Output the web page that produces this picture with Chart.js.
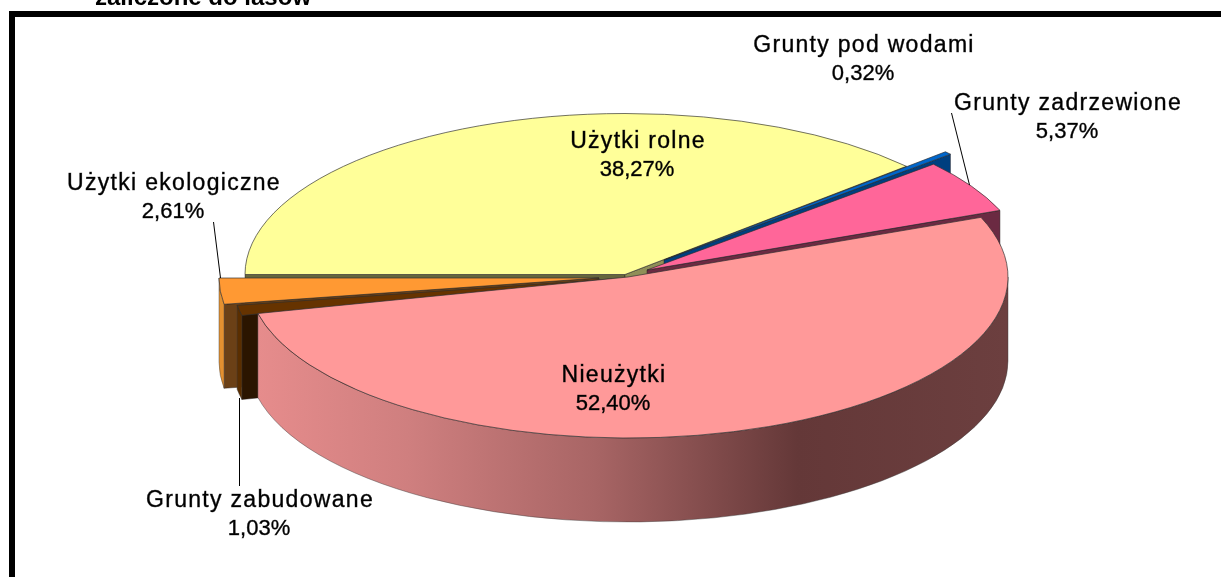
<!DOCTYPE html>
<html><head><meta charset="utf-8">
<style>html,body{margin:0;padding:0;background:#fff;overflow:hidden}canvas{display:block}</style>
<script src="https://cdn.jsdelivr.net/npm/chart.js@4"></script>
</head><body><canvas id="c" width="1221" height="577"></canvas>
<script>
// --- data ---
const categories = ['Użytki rolne','Grunty pod wodami','Grunty zadrzewione','Nieużytki','Grunty zabudowane','Użytki ekologiczne'];
const shares = [38.27,0.32,5.37,52.40,1.03,2.61];
const clippedTitle = 'zaliczone do lasów';

// --- styles ---
const topColors  = ['#FFFF99','#0066CC','#FF6699','#FF9999','#663300','#FF9933'];
const endFace    = ['#8F8F58','#003F7F','#6B2A42',null,null,null];
const startFace  = ['#66663D',null,null,null,'#2B1500','#6B4016'];
const rimColors  = [null,'#004488',null,null,'#5A2E00','#E39030'];
const rimGradient = [[0,'#E68C8C'],[0.2,'#CF7F7F'],[0.45,'#A86565'],[0.72,'#643838'],[1,'#6C3F3F']];
const outline = 'rgba(45,45,45,0.75)';
// --- layout ---
const RX = 380, RY = 161, DEPTH = 84;
const centers = [[625,274.5],[664,260],[647,270],[628,277],[612,279],[599,278]];
const drawOrder = [0,1,2,5,4,3];
const labelSpots = [[638,142],[864,46],[1068,104],[614,376],[260,501],[174,184]];
const leaders = [[[951,113],[969,185]],[[239,398],[239,486]],[[213,222],[220,278]]];

function pieceDraw(ctx, arc, i){
  const [cx,cy] = centers[i];
  const a0 = arc.startAngle, a1 = arc.endAngle;
  const px = a => cx + RX*Math.cos(a), py = a => cy + RY*Math.sin(a);
  const face = (a, col) => {
    if(!col) return;
    ctx.beginPath();
    ctx.moveTo(cx,cy); ctx.lineTo(px(a),py(a));
    ctx.lineTo(px(a),py(a)+DEPTH); ctx.lineTo(cx,cy+DEPTH); ctx.closePath();
    ctx.fillStyle = col; ctx.fill();
    ctx.strokeStyle = 'rgba(30,20,20,0.6)'; ctx.lineWidth = 0.7; ctx.stroke();
  };
  // rim wall: visible only where the angle faces the viewer
  const from = Math.max(a0,0), to = Math.min(a1,Math.PI);
  face(a0, startFace[i]);
  face(a1, endFace[i]);
  if(to>from){
    ctx.beginPath();
    ctx.ellipse(cx,cy,RX,RY,0,from,to,false);
    ctx.lineTo(px(to),py(to)+DEPTH);
    ctx.ellipse(cx,cy+DEPTH,RX,RY,0,to,from,true);
    ctx.closePath();
    if(rimColors[i]) ctx.fillStyle = rimColors[i];
    else {
      const g = ctx.createLinearGradient(cx-RX*0.974,0,cx+RX,0);
      rimGradient.forEach(s=>g.addColorStop(s[0],s[1]));
      ctx.fillStyle = g;
    }
    ctx.fill();
    ctx.strokeStyle = 'rgba(60,60,60,0.55)'; ctx.lineWidth = 0.8; ctx.stroke();
  }
  // top: drawn by the library's arc element under the projection
  ctx.save();
  ctx.translate(cx,cy);
  ctx.scale(RX/arc.outerRadius,RY/arc.outerRadius);
  ctx.translate(-arc.x,-arc.y);
  arc.draw(ctx);
  ctx.restore();
  ctx.beginPath();
  ctx.moveTo(cx,cy);
  ctx.ellipse(cx,cy,RX,RY,0,a0,a1,false);
  ctx.closePath();
  ctx.strokeStyle = outline; ctx.lineWidth = 0.9; ctx.stroke();
}

const pie3d = {
  id:'pie3d',
  beforeDatasetsDraw(chart){
    const ctx = chart.ctx, arcs = chart.getDatasetMeta(0).data;
    ctx.save();
    ctx.fillStyle='#000';
    ctx.fillRect(9,11,1212,6);
    ctx.fillRect(9,11,6,566);
    ctx.font='bold 24px "Liberation Sans"';
    ctx.textAlign='left'; ctx.textBaseline='alphabetic';
    ctx.fillText(clippedTitle,95,5);
    drawOrder.forEach(i=>pieceDraw(ctx,arcs[i],i));
    ctx.strokeStyle='#000'; ctx.lineWidth=1;
    leaders.forEach(l=>{ctx.beginPath();ctx.moveTo(l[0][0]+.5,l[0][1]);ctx.lineTo(l[1][0]+.5,l[1][1]);ctx.stroke();});
    ctx.fillStyle='#000'; ctx.strokeStyle='rgba(0,0,0,0.7)'; ctx.lineWidth=0.5;
    ctx.textAlign='center'; ctx.textBaseline='middle';
    const put=(t,x,y,sp,f)=>{ctx.font=f;ctx.letterSpacing=sp;ctx.fillText(t,x,y);ctx.strokeText(t,x,y);};
    categories.forEach((n,i)=>{
      const [x,y]=labelSpots[i];
      put(n,x,y,'1.3px','23px "Liberation Sans"');
      put(shares[i].toFixed(2).replace('.',',')+'%',x-1,y+28,'0px','22px "Liberation Sans"');
    });
    ctx.restore();
    return false;
  }
};

new Chart(document.getElementById('c'),{
  type:'pie',
  data:{labels:categories,datasets:[{data:shares,backgroundColor:topColors,borderWidth:0}]},
  options:{
    responsive:false,animation:false,rotation:-90,
    plugins:{legend:{display:false},tooltip:{enabled:false}},
    events:[]
  },
  plugins:[pie3d]
});
</script></body></html>
